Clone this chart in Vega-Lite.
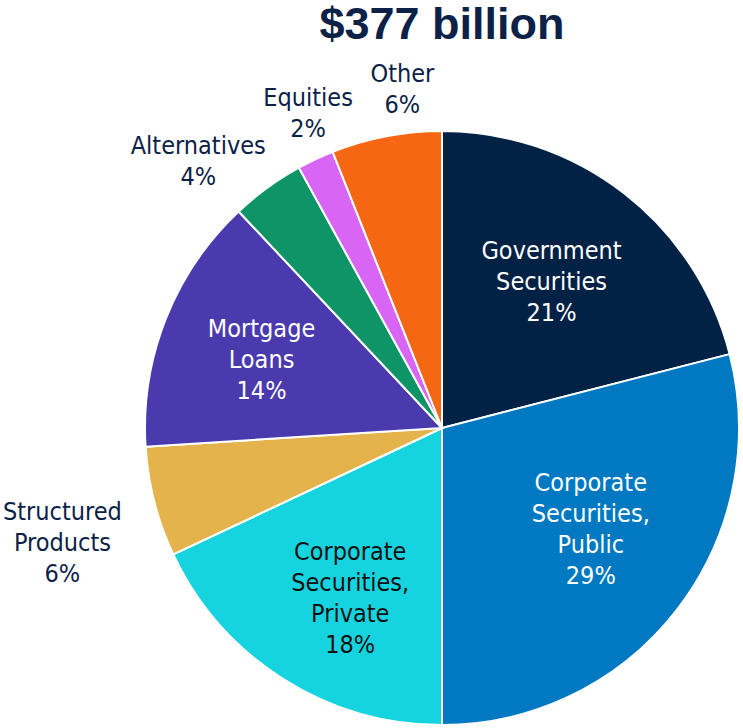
{
  "$schema": "https://vega.github.io/schema/vega-lite/v6.json",
  "width": 594,
  "height": 594,
  "padding": {"left": 145, "top": 131, "right": 4, "bottom": 3},
  "autosize": {"type": "none"},
  "background": "white",
  "title": {"text": "$377 billion", "font": "Liberation Sans", "fontSize": 45, "fontWeight": "bold", "color": "#0B2147", "offset": -79, "anchor": "middle", "frame": "group", "baseline": "bottom"},
  "data": {"values": [
    {"k": 1, "cat": "Government Securities", "v": 21, "label": "Government\nSecurities\n21%"},
    {"k": 2, "cat": "Corporate Securities, Public", "v": 29, "label": "Corporate\nSecurities,\nPublic\n29%"},
    {"k": 3, "cat": "Corporate Securities, Private", "v": 18, "label": "Corporate\nSecurities,\nPrivate\n18%"},
    {"k": 4, "cat": "Structured Products", "v": 6, "label": "Structured\nProducts\n6%"},
    {"k": 5, "cat": "Mortgage Loans", "v": 14, "label": "Mortgage\nLoans\n14%"},
    {"k": 6, "cat": "Alternatives", "v": 4, "label": "Alternatives\n4%"},
    {"k": 7, "cat": "Equities", "v": 2, "label": "Equities\n2%"},
    {"k": 8, "cat": "Other", "v": 6, "label": "Other\n6%"}
  ]},
  "encoding": {
    "theta": {"field": "v", "type": "quantitative", "stack": true},
    "order": {"field": "k", "type": "quantitative"}
  },
  "layer": [
    {
      "mark": {"type": "arc", "outerRadius": 297, "stroke": "white", "strokeWidth": 2},
      "encoding": {
        "color": {"field": "cat", "type": "nominal", "legend": null,
          "scale": {"domain": ["Government Securities", "Corporate Securities, Public", "Corporate Securities, Private", "Structured Products", "Mortgage Loans", "Alternatives", "Equities", "Other"],
                    "range": ["#012145", "#0079C2", "#15D4E0", "#E5B34B", "#4A3AAE", "#0E9467", "#D865F4", "#F56712"]}}
      }
    },
    {
      "mark": {"type": "text", "radius": 182, "dx": -2, "dy": -33, "font": "DejaVu Sans Condensed", "fontSize": 25, "lineHeight": 31, "lineBreak": "\n", "align": "center", "baseline": "middle", "color": "white"},
      "encoding": {"text": {"condition": {"test": "datum.cat === 'Government Securities'", "field": "label", "type": "nominal"}, "value": ""}}
    },
    {
      "mark": {"type": "text", "radius": 182, "dx": 5, "dy": -57, "font": "DejaVu Sans Condensed", "fontSize": 25, "lineHeight": 31, "lineBreak": "\n", "align": "center", "baseline": "middle", "color": "white"},
      "encoding": {"text": {"condition": {"test": "datum.cat === 'Corporate Securities, Public'", "field": "label", "type": "nominal"}, "value": ""}}
    },
    {
      "mark": {"type": "text", "radius": 190, "dx": 10, "dy": -36, "font": "DejaVu Sans Condensed", "fontSize": 25, "lineHeight": 31, "lineBreak": "\n", "align": "center", "baseline": "middle", "color": "#111111"},
      "encoding": {"text": {"condition": {"test": "datum.cat === 'Corporate Securities, Private'", "field": "label", "type": "nominal"}, "value": ""}}
    },
    {
      "mark": {"type": "text", "radius": 395, "dx": 3, "dy": -14, "font": "DejaVu Sans Condensed", "fontSize": 25, "lineHeight": 31, "lineBreak": "\n", "align": "center", "baseline": "middle", "color": "#0B2147"},
      "encoding": {"text": {"condition": {"test": "datum.cat === 'Structured Products'", "field": "label", "type": "nominal"}, "value": ""}}
    },
    {
      "mark": {"type": "text", "radius": 193, "dx": -1, "dy": -28, "font": "DejaVu Sans Condensed", "fontSize": 25, "lineHeight": 31, "lineBreak": "\n", "align": "center", "baseline": "middle", "color": "white"},
      "encoding": {"text": {"condition": {"test": "datum.cat === 'Mortgage Loans'", "field": "label", "type": "nominal"}, "value": ""}}
    },
    {
      "mark": {"type": "text", "radius": 350, "dx": -38, "dy": 1, "font": "DejaVu Sans Condensed", "fontSize": 25, "lineHeight": 31, "lineBreak": "\n", "align": "center", "baseline": "middle", "color": "#0B2147"},
      "encoding": {"text": {"condition": {"test": "datum.cat === 'Alternatives'", "field": "label", "type": "nominal"}, "value": ""}}
    },
    {
      "mark": {"type": "text", "radius": 345, "dx": 13, "dy": -18, "font": "DejaVu Sans Condensed", "fontSize": 25, "lineHeight": 31, "lineBreak": "\n", "align": "center", "baseline": "middle", "color": "#0B2147"},
      "encoding": {"text": {"condition": {"test": "datum.cat === 'Equities'", "field": "label", "type": "nominal"}, "value": ""}}
    },
    {
      "mark": {"type": "text", "radius": 345, "dx": 25, "dy": -15, "font": "DejaVu Sans Condensed", "fontSize": 25, "lineHeight": 31, "lineBreak": "\n", "align": "center", "baseline": "middle", "color": "#0B2147"},
      "encoding": {"text": {"condition": {"test": "datum.cat === 'Other'", "field": "label", "type": "nominal"}, "value": ""}}
    }
  ],
  "config": {"view": {"stroke": null}}
}
